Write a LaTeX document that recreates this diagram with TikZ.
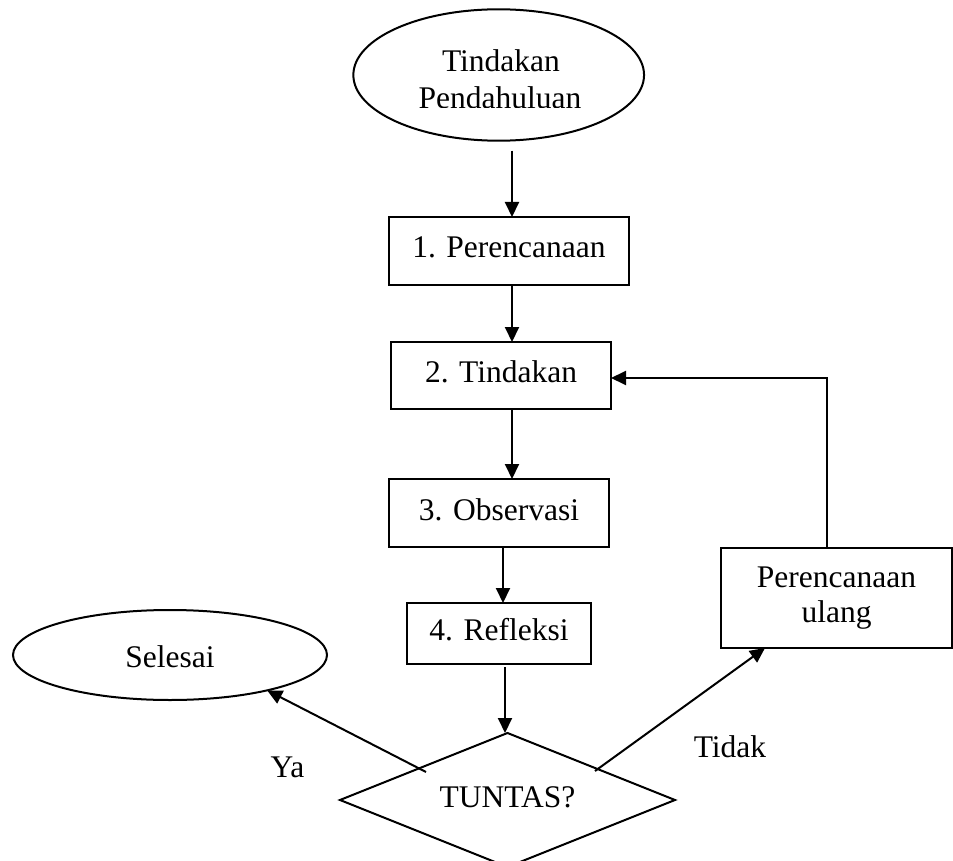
\documentclass[tikz,border=0pt]{standalone}
\usepackage{fontspec}
\setmainfont{Liberation Serif}
\usetikzlibrary{shapes.geometric,arrows.meta,calc}
\begin{document}
\begin{tikzpicture}[x=1pt,y=-1pt,
  every node/.style={font=\fontsize{31.5}{35}\selectfont, inner sep=0pt, outer sep=0pt},
  shp/.style={draw, line width=2pt},
  boxnode/.style={shp, rectangle, text height=21pt, text depth=7pt},
  arr/.style={line width=2pt, -{Triangle[length=15pt,width=14pt]}},
  lbl/.style={anchor=base}]
\useasboundingbox (0,0) rectangle (953,861);
% start ellipse
\node[shp, ellipse, minimum width=290.7pt, minimum height=131.4pt] (start) at (498.7,75) {};
\node[lbl] (starttext1) at (501,71.7) {Tindakan};
\begin{scope}
  \clip (340,0) rectangle (660,107.7);
  \node[lbl] (starttext2) at (500,109) {Pendahuluan};
\end{scope}
% boxes
\node[boxnode, minimum width=240pt, minimum height=68pt] (b1) at (509,251) {1. Perencanaan};
\node[boxnode, minimum width=220pt, minimum height=67pt] (b2) at (501,375.5) {2. Tindakan};
\node[boxnode, minimum width=220pt, minimum height=68pt] (b3) at (499,513) {3. Observasi};
\node[boxnode, minimum width=184pt, minimum height=61pt] (b4) at (499,633.5) {4. Refleksi};
% decision
\node[shp, diamond, aspect=2.5, minimum width=335pt, minimum height=134pt, text height=21pt, text depth=7pt] (dia) at (507.5,800) {TUNTAS?};
% end
\node[shp, ellipse, minimum width=314pt, minimum height=90pt, text height=24pt, text depth=0pt] (sel) at (170,655) {Selesai};
% re-plan
\node[shp, rectangle, minimum width=231pt, minimum height=100pt, align=center] (ulang) at (836.5,598) {Perencanaan\\ulang};
% labels
\node[lbl] (ya) at (287.5,777) {Ya};
\node[lbl] (tidak) at (730,757) {Tidak};
% connectors
\coordinate (x1) at (512,0);
\coordinate (x2) at (503,0);
\coordinate (x3) at (505,0);
\draw[arr] ($(start.south -| x1)+(0,10)$) -- (b1.north -| x1);
\draw[arr] (b1.south -| x1) -- (b2.north -| x1);
\draw[arr] (b2.south -| x1) -- (b3.north -| x1);
\draw[arr] (b3.south -| x2) -- (b4.north -| x2);
\draw[arr] ($(b4.south -| x3)+(0,3)$) -- (dia.north -| x3);
\coordinate (ya0) at (426,772);
\draw[arr] (ya0) -- (sel.-20);
\coordinate (td0) at (595,771);
\draw[arr] (td0) -- ([xshift=44pt]ulang.south west);
\coordinate (fb) at (827,378);
\draw[arr] (ulang.north -| fb) -- (fb) -- (fb -| b2.east);
\end{tikzpicture}
\end{document}
